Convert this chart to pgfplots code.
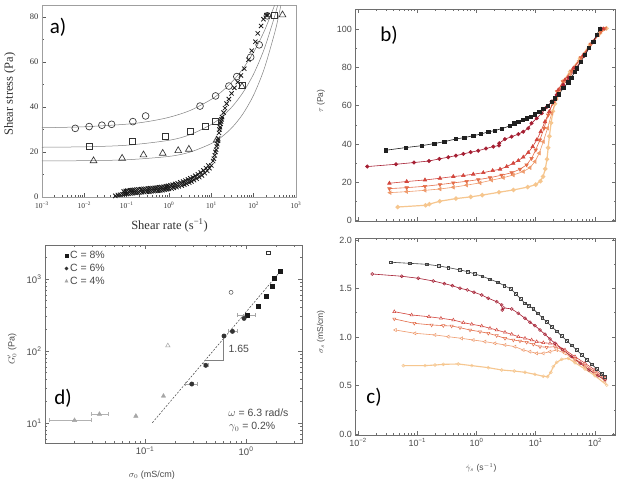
\documentclass[border=0pt]{standalone}
\usepackage{fontspec}
\setmainfont{Liberation Serif}
\newfontfamily\hv{Liberation Sans}
\newfontfamily\calfont{Carlito}
\usepackage{pgfplots}
\pgfplotsset{compat=1.18}
\definecolor{cb1}{HTML}{202020}
\definecolor{cb2}{HTML}{A51E32}
\definecolor{cb3}{HTML}{D2453C}
\definecolor{cb4}{HTML}{E46E4A}
\definecolor{cb5}{HTML}{EF9A6C}
\definecolor{cb6}{HTML}{F6C68E}
\definecolor{txt}{HTML}{4A4A4A}
\definecolor{frm}{HTML}{6E6E6E}
\definecolor{amk}{HTML}{333333}
\begin{document}
\begin{tikzpicture}
\useasboundingbox (0pt,0pt) rectangle (621pt,-479pt);
\fill[white] (0pt,0pt) rectangle (621pt,-479pt);
% ---------------- a ----------------
\begin{axis}[at={(42pt,-197pt)}, anchor=south west, scale only axis, width=254pt, height=192pt,
 xmode=log, xmin=1e-3, xmax=1e3, ymin=0, ymax=85.3,
 xtick={1e-3,1e-2,1e-1,1,10,100,1000},
 xticklabels={10\textsuperscript{−3},10\textsuperscript{−2},10\textsuperscript{−1},10\textsuperscript{0},10\textsuperscript{1},10\textsuperscript{2},10\textsuperscript{3}},
 minor xtick={0.002,0.003,0.004,0.005,0.006,0.007,0.008,0.009,0.02,0.03,0.04,0.05,0.06,0.07,0.08,0.09,0.2,0.3,0.4,0.5,0.6,0.7,0.8,0.9,2,3,4,5,6,7,8,9,20,30,40,50,60,70,80,90,200,300,400,500,600,700,800,900},
 ytick={0,20,40,60,80}, yticklabels={0,20,40,60,80}, minor ytick={10,30,50,70},
 tick align=inside, tick pos=left,
 axis line style={draw=gray!75, line width=0.9pt},
 tick style={black!65, line width=0.5pt}, major tick length=4pt, minor tick length=2pt,
 tick label style={font=\fontsize{8.5}{9}\selectfont, text=black!80},
 xticklabel style={font=\fontsize{7.5}{8}\selectfont, yshift=-1.5pt},
 xlabel={Shear rate (s\textsuperscript{−1})}, ylabel={Shear stress (Pa)},
 label style={font=\fontsize{12.5}{13}\selectfont, text=black!80},
 xlabel style={at={(axis description cs:0.502,-0.148)}, anchor=center},
 ylabel style={at={(axis description cs:-0.126,0.536)}, anchor=center}]
\addplot[gray, line width=0.5pt, smooth] coordinates {(0.001,30.77) (0.01,31.21) (0.1,32.36) (0.3162,33.52) (1,35.4) (3.162,38.45) (10,43.39) (17.78,46.9) (31.62,51.4) (56.23,57.1) (100,64.4) (177.8,73.67) (316.2,85.5) (398.1,91.1)};
\addplot[gray, line width=0.5pt, smooth] coordinates {(0.001,22.10) (0.01,22.31) (0.1,23.0) (1,25.2) (3.162,27.72) (10,32.24) (17.78,35.69) (31.62,40.3) (56.23,46.5) (100,54.7) (177.8,65.8) (316.2,80.56) (398.1,87.8)};
\addplot[gray, line width=0.5pt, smooth] coordinates {(0.001,16.04) (0.01,16.14) (0.1,16.54) (1,18.04) (3.162,19.97) (10,23.74) (17.78,26.8) (31.62,31.07) (56.23,37.04) (100,45.35) (177.8,57.0) (316.2,73.2) (398.1,81.3) (501.2,90.6)};
\addplot[only marks, mark=o, mark size=3.4pt, amk, line width=0.65pt] coordinates {(0.0061,30.5) (0.013,31.3) (0.026,31.9) (0.044,32.3) (0.14,33.5) (0.28,36) (5.4,40.4) (12.6,44.9) (26,49.3) (40,53.5) (85,62.1) (135,67.6) (210,80.5)};
\addplot[only marks, mark=square, mark size=3pt, amk, line width=0.65pt] coordinates {(0.013,22.7) (0.135,24.6) (0.83,26.8) (3.2,29) (7.3,31.6) (12.6,33.5) (54,49.8) (306,80.9)};
\addplot[only marks, mark=triangle, mark size=3.9pt, amk, line width=0.65pt] coordinates {(0.0165,16.1) (0.078,17.2) (0.25,18.7) (0.71,19.4) (1.65,20.6) (2.95,21.2) (13.4,25.3) (53,49) (480,80.9)};
\addplot[only marks, mark=x, mark size=3pt, black!90, line width=0.8pt] coordinates {(0.054,0.5) (0.062,0.9) (0.07,1.0) (0.08,1.2) (0.09,1.3) (0.10,1.4) (0.11,1.5) (0.125,1.6) (0.14,1.7) (0.16,1.8) (0.18,1.9) (0.2,2.0) (0.23,2.1) (0.26,2.2) (0.3,2.3) (0.34,2.4) (0.38,2.5) (0.43,2.6) (0.48,2.7) (0.55,2.8) (0.62,2.9) (0.7,3.0) (0.8,3.2) (0.9,3.4) (1.0,3.6) (1.15,3.8) (1.3,4.1) (1.5,4.4) (1.7,4.7) (2.0,5.1) (2.3,5.5) (2.6,5.9) (3.0,6.4) (3.4,6.9) (3.9,7.5) (4.5,8.1) (5.2,8.8) (6.0,9.6) (7.0,10.6) (8.0,11.6) (9.0,12.8) (10.0,14) (11.0,16) (12.0,18.5) (13.0,21) (13.8,23.5) (14.5,26) (15.2,28.5) (16.0,31) (17.0,33.5) (18.0,35.5) (19.5,37.5) (21.0,39.5) (23.0,41.5) (26.0,43.5) (30.0,46) (35.0,48.5) (42.0,51) (50.0,54) (60.0,57) (75.0,61) (90.0,65) (110.0,69) (125.0,72.7) (150.0,76) (170.0,79) (200.0,80.8) (215,80.8)};
\addplot[only marks, mark=x, mark size=3pt, black!90, line width=0.8pt] coordinates {(0.085,2.5) (0.095,2.7) (0.105,2.9) (0.12,3.0) (0.135,3.1) (0.15,3.2) (0.17,3.3) (0.19,3.4) (0.22,3.5) (0.25,3.6) (0.28,3.7) (0.32,3.8) (0.36,3.9) (0.41,4.0) (0.46,4.1) (0.52,4.2) (0.59,4.3) (0.66,4.4) (0.75,4.6) (0.85,4.8) (0.95,5.0) (1.08,5.2) (1.22,5.5) (1.4,5.8) (1.6,6.1) (1.85,6.5) (2.15,6.9) (2.45,7.3) (2.8,7.8) (3.2,8.3) (3.65,8.8) (4.2,9.4) (4.8,10.1) (5.6,10.9) (6.5,11.8) (7.5,12.8) (8.5,14) (11.5,17) (12.5,20) (13.4,22.5) (14.2,25) (15.6,30) (16.5,32.5) (17.5,34.5)};
\end{axis}
\node[font=\calfont\fontsize{21}{21}\selectfont] at (58pt,-27pt) {a)};
% ---------------- b ----------------
\begin{axis}[at={(355.5pt,-221pt)}, anchor=south west, scale only axis, width=260pt, height=212pt,
 xmode=log, xmin=0.00908, xmax=222, ymin=-0.2, ymax=110.4,
 xtick={0.01,0.1,1,10,100}, xticklabels={},
 minor xtick={0.02,0.03,0.04,0.05,0.06,0.07,0.08,0.09,0.2,0.3,0.4,0.5,0.6,0.7,0.8,0.9,2,3,4,5,6,7,8,9,20,30,40,50,60,70,80,90,200},
 ytick={0,20,40,60,80,100}, yticklabels={0,20,40,60,80,100}, minor ytick={10,30,50,70,90},
 tick align=inside, tick pos=both,
 axis line style={draw=frm, line width=0.8pt},
 tick style={frm, line width=0.5pt}, major tick length=4pt, minor tick length=2pt,
 tick label style={font=\hv\fontsize{9}{10}\selectfont, text=txt},
 ylabel={$\tau$ (Pa)}, label style={font=\hv\fontsize{8.5}{9}\selectfont, text=txt},
 ylabel style={at={(axis description cs:-0.133,0.566)}, anchor=center}]
\addplot[cb6, line width=1.2pt, mark=*, mark size=1.6pt] coordinates {(0.0468,7.1) (0.138,8.0) (0.16,8.6) (0.24,10.1) (0.45,11.5) (0.8,12.4) (1.25,13.3) (2.4,14.8) (4.2,16.0) (7.3,17.5) (10.0,18.8) (12.0,20.6) (13.3,23.0) (14.5,27.0) (15.5,32) (16.2,38) (17.0,44) (18.2,51) (19.5,57) (21.1,61) (24.0,67.3) (29.2,72.8) (38,77.7) (56,84.7) (82,91.7) (122,97.8) (157,100.3)};
\addplot[cb5, line width=0.6pt, mark=triangle*, mark size=2pt, mark options={rotate=90}] coordinates {(0.0347,14.6) (0.0664,15.1) (0.1352,15.8) (0.2421,16.5) (0.4064,17.4) (0.6823,18.5) (1.146,19.7) (1.803,21.1) (2.838,22.4) (4.169,23.8) (6.166,25.6) (8.0,27.6) (9.705,30.8) (11.48,35.2) (13.43,41.2) (15.85,48.2) (18.62,56.0) (22.59,63.8) (29.17,70.8) (38,76.5) (55,83.5) (80,90.5) (115,97) (150,100.3)};
\addplot[cb4, line width=0.6pt, mark=triangle*, mark size=2pt, mark options={rotate=180}] coordinates {(0.0339,16.7) (0.0664,17.2) (0.1352,17.9) (0.2421,18.8) (0.4064,19.7) (0.6823,20.5) (1.072,21.4) (1.687,22.4) (2.655,23.7) (3.926,25.0) (5.42,26.8) (7.015,29.1) (8.511,32.5) (10,36.9) (11.75,42.1) (13.8,48.2) (16.22,55.1) (19.28,61.2) (22.91,67.3) (28.84,72.5) (40,78) (58,85) (85,92) (125,98.5) (145,100.3)};
\addplot[cb3, line width=0.6pt, mark=triangle*, mark size=2pt] coordinates {(0.0339,19.5) (0.0664,20.4) (0.1352,21.2) (0.2421,22.1) (0.4064,23.0) (0.5998,23.5) (0.8831,24.2) (1.303,25.0) (1.875,26.1) (2.495,26.8) (3.236,28.2) (4.169,29.9) (5.082,31.3) (6.166,33.1) (7.482,35.5) (8.892,38.6) (10.38,42.1) (12.13,46.4) (14.32,51.6) (16.94,56.9) (19.77,62.1) (23.99,68.2) (31.19,73.4) (43.05,79.5) (63.53,86.4) (93.33,93.4) (138,100)};
\addplot[cb2, line width=0.6pt, mark=*, mark size=1.7pt] coordinates {(0.01435,28.2) (0.04375,29.4) (0.0881,30.3) (0.1578,31.1) (0.236,32.2) (0.3342,33.1) (0.4508,33.9) (0.5998,34.8) (0.798,35.7) (1.072,36.5) (1.445,37.6) (1.923,38.6) (2.4,39.2) (2.427,40.4) (3.02,42.5) (3.926,43.8) (5.082,45.1) (6.166,46.4) (7.482,48.2) (8.511,50.8) (10.38,53.4) (12.59,56.0) (15.31,59.2) (18.58,62.1) (22.59,65.6) (29.17,70.8) (36.31,74.5) (47.86,79.5) (66.07,86.0) (91.2,93.0) (125.9,100.2)};
\addplot[cb1, line width=0.6pt, mark=square*, mark size=1.6pt] coordinates {(0.0293,36.7) (0.0638,38.1) (0.1189,39.1) (0.194,40.2) (0.2864,41.2) (0.4508,42.6) (0.6223,43.3) (0.8831,44.3) (1.191,45.2) (1.585,46.3) (2.051,47.0) (2.661,48.0) (3.673,49.4) (4.345,50.8) (5.082,51.7) (6.012,52.5) (7.031,53.4) (8.318,54.3) (9.705,55.5) (11.48,56.9) (13.43,58.3) (15.85,59.7) (18.58,61.8) (21.13,63.8) (24.66,65.9) (29.17,69.1) (35.48,72.2) (39.8,74.5) (46.03,77.7) (50.1,79.5) (57.5,83) (67.61,86.4) (79.4,90) (93.33,93.4) (107,97) (121.6,100)};
\end{axis}
\node[font=\calfont\fontsize{21}{21}\selectfont] at (389pt,-35pt) {b)};
% ---------------- c ----------------
\begin{axis}[at={(355.5pt,-435pt)}, anchor=south west, scale only axis, width=260pt, height=197pt,
 xmode=log, xmin=0.00908, xmax=222, ymin=-0.01, ymax=2.02,
 xtick={0.01,0.1,1,10,100},
 xticklabels={10\textsuperscript{−2},10\textsuperscript{−1},10\textsuperscript{0},10\textsuperscript{1},10\textsuperscript{2}},
 minor xtick={0.02,0.03,0.04,0.05,0.06,0.07,0.08,0.09,0.2,0.3,0.4,0.5,0.6,0.7,0.8,0.9,2,3,4,5,6,7,8,9,20,30,40,50,60,70,80,90,200},
 ytick={0,0.5,1,1.5,2}, yticklabels={0.0,0.5,1.0,1.5,2.0}, minor ytick={0.25,0.75,1.25,1.75},
 tick align=inside, tick pos=both,
 axis line style={draw=frm, line width=0.8pt},
 tick style={frm, line width=0.5pt}, major tick length=4pt, minor tick length=2pt,
 tick label style={font=\hv\fontsize{9}{10}\selectfont, text=txt},
 xlabel={$\dot{\gamma}_s$ (s$^{-1}$)}, ylabel={$\sigma_s$ (mS/cm)},
 label style={font=\hv\fontsize{8.5}{9}\selectfont, text=txt},
 xlabel style={at={(axis description cs:0.483,-0.168)}, anchor=center},
 ylabel style={at={(axis description cs:-0.133,0.523)}, anchor=center}]
\addplot[cb6, line width=1.1pt, mark=o, mark size=1.5pt, mark options={fill=white, line width=0.5pt}] coordinates {(0.0582,0.705) (0.1352,0.705) (0.1995,0.711) (0.2754,0.718) (0.4932,0.722) (0.8318,0.705) (1.581,0.684) (2.661,0.66) (4.345,0.649) (6.592,0.636) (9.705,0.615) (13.43,0.595) (15.85,0.591) (17.99,0.636) (19.72,0.694) (22.59,0.739) (27.42,0.77) (35.48,0.78) (46.03,0.735) (67.92,0.67) (100,0.601) (157.4,0.505)};
\addplot[cb5, line width=0.6pt, mark=triangle*, mark size=1.8pt, mark options={rotate=90, fill=white, line width=0.5pt}] coordinates {(0.04276,1.072) (0.0916,1.038) (0.1995,1.021) (0.3342,1.003) (0.5623,0.986) (0.8831,0.969) (1.39,0.952) (2.051,0.935) (3.027,0.918) (4.467,0.90) (6.166,0.866) (8.0,0.849) (10.38,0.832) (13.43,0.832) (17.42,0.849) (22.59,0.866) (31.19,0.832) (46.03,0.763) (67.92,0.694) (100,0.626) (147.9,0.546)};
\addplot[cb4, line width=0.6pt, mark=triangle*, mark size=1.8pt, mark options={rotate=180, fill=white, line width=0.5pt}] coordinates {(0.041,1.186) (0.0891,1.141) (0.175,1.124) (0.2754,1.117) (0.381,1.113) (0.5272,1.096) (0.778,1.072) (1.146,1.055) (1.581,1.038) (2.193,1.014) (3.027,0.986) (4.188,0.969) (5.42,0.959) (7.031,0.945) (9.1,0.925) (11.8,0.90) (15.31,0.894) (21.13,0.90) (29.24,0.866) (46.03,0.773) (67.92,0.711) (100,0.642) (147.9,0.567)};
\addplot[cb3, line width=0.6pt, mark=triangle*, mark size=1.8pt, mark options={fill=white, line width=0.5pt}] coordinates {(0.041,1.261) (0.0805,1.227) (0.1578,1.209) (0.2512,1.193) (0.4064,1.175) (0.5998,1.148) (0.8318,1.131) (1.225,1.113) (1.690,1.09) (2.193,1.072) (3.027,1.048) (3.926,1.028) (5.082,1.003) (6.592,0.986) (8.531,0.969) (10.38,0.952) (13.43,0.941) (17.42,0.935) (22.59,0.918) (31.19,0.866) (46.03,0.797) (67.92,0.729) (100,0.66) (147.9,0.58)};
\addplot[cb2, line width=0.6pt, mark=o, mark size=1.5pt, mark options={fill=white, line width=0.5pt}] coordinates {(0.01746,1.649) (0.0546,1.626) (0.1042,1.605) (0.1866,1.577) (0.2864,1.550) (0.3908,1.529) (0.5272,1.502) (0.6998,1.485) (0.9078,1.461) (1.225,1.433) (1.581,1.399) (2.193,1.364) (2.661,1.330) (2.723,1.278) (2.884,1.300) (3.926,1.289) (5.082,1.244) (6.592,1.193) (8.0,1.152) (9.705,1.117) (11.8,1.072) (14.32,1.028) (17.42,0.979) (21.13,0.935) (28.18,0.87) (39.81,0.80) (56.23,0.73) (79.43,0.66) (112.2,0.60) (147.9,0.56)};
\addplot[cb1!85, line width=0.6pt, mark=square, mark size=1.4pt, mark options={fill=white, line width=0.5pt}] coordinates {(0.0361,1.770) (0.0755,1.759) (0.1442,1.749) (0.2328,1.732) (0.3342,1.715) (0.5272,1.691) (0.7096,1.673) (0.9441,1.649) (1.253,1.626) (1.690,1.595) (2.280,1.564) (2.951,1.529) (3.819,1.495) (4.645,1.443) (5.572,1.392) (6.592,1.347) (7.691,1.323) (9.1,1.289) (10.79,1.244) (12.91,1.199) (15.31,1.157) (18.58,1.108) (22.59,1.059) (27.42,1.011) (33.27,0.963) (40.46,0.914) (49.09,0.866) (59.7,0.817) (72.44,0.768) (87.9,0.720) (106.9,0.671) (129.7,0.623) (147.9,0.590)};
\end{axis}
\node[font=\calfont\fontsize{21}{21}\selectfont] at (374pt,-397pt) {c)};
% ---------------- d ----------------
\begin{axis}[at={(45pt,-443pt)}, anchor=south west, scale only axis, width=257pt, height=198pt,
 xmode=log, ymode=log, xmin=0.0102, xmax=3.58, ymin=5.28, ymax=2966,
 xtick={0.01,0.1,1}, xticklabels={10\textsuperscript{−2},10\textsuperscript{−1},10\textsuperscript{0}},
 minor xtick={0.02,0.03,0.04,0.05,0.06,0.07,0.08,0.09,0.2,0.3,0.4,0.5,0.6,0.7,0.8,0.9,2,3},
 ytick={10,100,1000}, yticklabels={10\textsuperscript{1},10\textsuperscript{2},10\textsuperscript{3}},
 minor ytick={6,7,8,9,20,30,40,50,60,70,80,90,200,300,400,500,600,700,800,900,2000},
 tick align=inside, tick pos=both,
 axis line style={draw=frm, line width=0.8pt},
 tick style={frm, line width=0.5pt}, major tick length=4pt, minor tick length=2pt,
 tick label style={font=\hv\fontsize{9.5}{10}\selectfont, text=txt},
 xlabel={$\sigma_0$ (mS/cm)}, ylabel={$G'_0$ (Pa)},
 label style={font=\hv\fontsize{9}{10}\selectfont, text=txt},
 xlabel style={at={(axis description cs:0.416,-0.162)}, anchor=center},
 ylabel style={at={(axis description cs:-0.128,0.475)}, anchor=center},
 legend style={draw=none, fill=none, at={(0.065,0.99)}, anchor=north west, font=\hv\fontsize{10.5}{12}\selectfont, text=txt, row sep=0pt},
 legend cell align=left]
\addlegendimage{only marks, mark=square*, mark size=1.4pt, black!90}
\addlegendentry{C = 8\%}
\addlegendimage{only marks, mark=*, mark size=1.6pt, black!80}
\addlegendentry{C = 6\%}
\addlegendimage{only marks, mark=triangle*, mark size=1.8pt, gray!70}
\addlegendentry{C = 4\%}
\addplot[forget plot, only marks, mark=square*, mark size=2pt, black!90] coordinates {(1.03,316) (1.32,413) (1.58,581) (1.82,807) (1.92,1032) (2.17,1291)};
\addplot[forget plot, only marks, mark=*, mark size=2.2pt, black!80] coordinates {(0.29,34.8) (0.399,63.3) (0.605,161.6) (0.733,187.5) (0.955,284)};
\addplot[forget plot, only marks, mark=triangle*, mark size=2.5pt, gray!70] coordinates {(0.02,10.9) (0.0353,13.3) (0.081,12.5) (0.152,23.7)};
\addplot[forget plot, black!75, line width=0.5pt, dash pattern=on 2pt off 1.5pt] coordinates {(0.118,10.1) (2.17,1260)};
\addplot[forget plot, gray, line width=0.9pt] coordinates {(0.393,73.3) (0.596,73.3) (0.596,161)};
\addplot[forget plot, gray!60, line width=0.5pt, mark=|, mark size=2pt] coordinates {(0.0113,10.9) (0.029,10.9)};
\addplot[forget plot, gray!60, line width=0.5pt, mark=|, mark size=2pt] coordinates {(0.029,13.3) (0.0433,13.3)};
\addplot[forget plot, gray!70, line width=0.5pt, mark=|, mark size=2pt] coordinates {(0.249,34.8) (0.325,34.8)};
\addplot[forget plot, gray!70, line width=0.5pt, mark=|, mark size=2pt] coordinates {(0.38,63.3) (0.42,63.3)};
\addplot[forget plot, gray!70, line width=0.5pt, mark=|, mark size=2pt] coordinates {(0.668,187.5) (0.82,187.5)};
\addplot[forget plot, gray!70, line width=0.5pt, mark=|, mark size=2pt] coordinates {(0.81,316) (1.23,316)};
\addplot[forget plot, only marks, mark=square, mark size=1.8pt, black!80, line width=0.5pt] coordinates {(1.66,2318)};
\addplot[forget plot, only marks, mark=o, mark size=2pt, black!70, line width=0.5pt] coordinates {(0.71,653)};
\addplot[forget plot, only marks, mark=triangle, mark size=2.6pt, gray!70, line width=0.5pt] coordinates {(0.168,118.6)};
\node[anchor=west, font=\hv\fontsize{10.5}{11}\selectfont, text=txt] at (axis cs:0.62,108) {1.65};
\node[anchor=west, font=\hv\fontsize{10.5}{11}\selectfont, text=txt] at (axis description cs:0.70,0.152) {$\omega$ = 6.3 rad/s};
\node[anchor=west, font=\hv\fontsize{10.5}{11}\selectfont, text=txt] at (axis description cs:0.703,0.081) {$\gamma_0$ = 0.2\%};
\end{axis}
\node[font=\calfont\fontsize{21}{21}\selectfont] at (63pt,-398pt) {d)};
\end{tikzpicture}
\end{document}
